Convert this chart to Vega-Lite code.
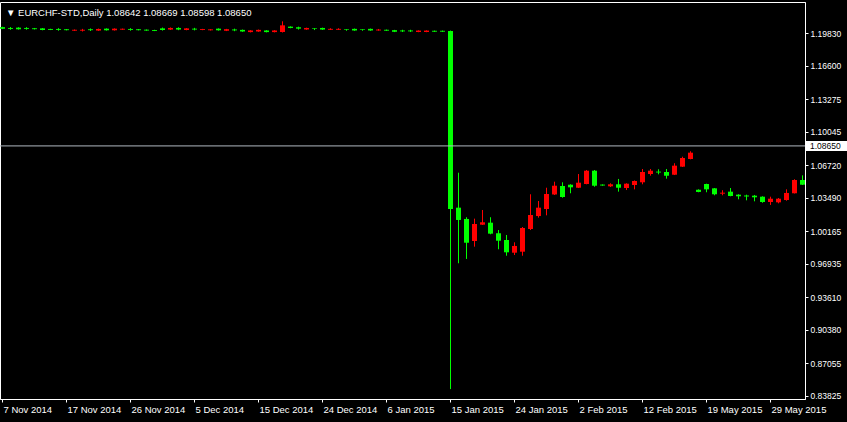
{
  "$schema": "https://vega.github.io/schema/vega-lite/v6.json",
  "width": 805,
  "height": 397,
  "autosize": {"type": "none"},
  "padding": {"left": 0, "top": 2, "right": 42, "bottom": 23},
  "background": "black",
  "config": {
    "view": {"stroke": "white", "strokeWidth": 1},
    "font": "Liberation Sans",
    "axis": {"labelFont": "Liberation Sans", "grid": false, "title": null, "labelOverlap": false, "labelSeparation": 0}
  },
  "title": {
    "text": "▼ EURCHF-STD,Daily  1.08642 1.08669 1.08598 1.08650",
    "anchor": "start",
    "frame": "group",
    "orient": "top",
    "offset": 0,
    "dx": 6,
    "dy": 23,
    "baseline": "alphabetic",
    "color": "white",
    "font": "Liberation Sans",
    "fontSize": 9.5,
    "fontWeight": "normal"
  },
  "layer": [
    {
      "data": {
        "values": [
          {"date": "7 Nov 2014", "open": 1.2044, "high": 1.2048, "low": 1.2025, "close": 1.2028},
          {"date": "9 Nov 2014", "open": 1.2036, "high": 1.2045, "low": 1.2018, "close": 1.2027},
          {"date": "10 Nov 2014", "open": 1.2039, "high": 1.2043, "low": 1.2020, "close": 1.2023},
          {"date": "11 Nov 2014", "open": 1.2036, "high": 1.2044, "low": 1.2019, "close": 1.2027},
          {"date": "12 Nov 2014", "open": 1.2033, "high": 1.2036, "low": 1.2021, "close": 1.2024},
          {"date": "13 Nov 2014", "open": 1.2032, "high": 1.2035, "low": 1.2013, "close": 1.2016},
          {"date": "14 Nov 2014", "open": 1.2026, "high": 1.2028, "low": 1.2015, "close": 1.2017},
          {"date": "16 Nov 2014", "open": 1.2026, "high": 1.2034, "low": 1.2009, "close": 1.2017},
          {"date": "17 Nov 2014", "open": 1.2023, "high": 1.2025, "low": 1.2012, "close": 1.2014},
          {"date": "18 Nov 2014", "open": 1.2009, "high": 1.2021, "low": 1.2007, "close": 1.2018},
          {"date": "19 Nov 2014", "open": 1.2009, "high": 1.2027, "low": 1.2001, "close": 1.2018},
          {"date": "20 Nov 2014", "open": 1.2023, "high": 1.2031, "low": 1.2006, "close": 1.2014},
          {"date": "21 Nov 2014", "open": 1.2010, "high": 1.2030, "low": 1.2007, "close": 1.2026},
          {"date": "23 Nov 2014", "open": 1.2029, "high": 1.2032, "low": 1.2010, "close": 1.2013},
          {"date": "24 Nov 2014", "open": 1.2013, "high": 1.2032, "low": 1.2010, "close": 1.2029},
          {"date": "25 Nov 2014", "open": 1.2019, "high": 1.2030, "low": 1.2017, "close": 1.2028},
          {"date": "26 Nov 2014", "open": 1.2026, "high": 1.2034, "low": 1.2009, "close": 1.2017},
          {"date": "27 Nov 2014", "open": 1.2023, "high": 1.2025, "low": 1.2012, "close": 1.2014},
          {"date": "28 Nov 2014", "open": 1.2019, "high": 1.2021, "low": 1.2008, "close": 1.2010},
          {"date": "30 Nov 2014", "open": 1.2016, "high": 1.2018, "low": 1.2005, "close": 1.2007},
          {"date": "1 Dec 2014", "open": 1.2032, "high": 1.2040, "low": 1.2010, "close": 1.2016},
          {"date": "2 Dec 2014", "open": 1.2020, "high": 1.2041, "low": 1.2016, "close": 1.2036},
          {"date": "3 Dec 2014", "open": 1.2036, "high": 1.2043, "low": 1.2014, "close": 1.2020},
          {"date": "4 Dec 2014", "open": 1.2016, "high": 1.2035, "low": 1.2013, "close": 1.2032},
          {"date": "5 Dec 2014", "open": 1.2029, "high": 1.2037, "low": 1.2012, "close": 1.2020},
          {"date": "7 Dec 2014", "open": 1.2016, "high": 1.2027, "low": 1.2014, "close": 1.2025},
          {"date": "8 Dec 2014", "open": 1.2013, "high": 1.2024, "low": 1.2011, "close": 1.2022},
          {"date": "9 Dec 2014", "open": 1.2029, "high": 1.2032, "low": 1.2010, "close": 1.2013},
          {"date": "10 Dec 2014", "open": 1.2008, "high": 1.2027, "low": 1.2005, "close": 1.2024},
          {"date": "11 Dec 2014", "open": 1.2021, "high": 1.2029, "low": 1.2004, "close": 1.2012},
          {"date": "12 Dec 2014", "open": 1.2017, "high": 1.2020, "low": 1.1998, "close": 1.2001},
          {"date": "14 Dec 2014", "open": 1.1995, "high": 1.2014, "low": 1.1992, "close": 1.2011},
          {"date": "15 Dec 2014", "open": 1.2001, "high": 1.2020, "low": 1.1998, "close": 1.2017},
          {"date": "16 Dec 2014", "open": 1.2011, "high": 1.2014, "low": 1.1992, "close": 1.1995},
          {"date": "17 Dec 2014", "open": 1.1995, "high": 1.2014, "low": 1.1992, "close": 1.2011},
          {"date": "18 Dec 2014", "open": 1.1996, "high": 1.2102, "low": 1.1991, "close": 1.2062},
          {"date": "19 Dec 2014", "open": 1.2049, "high": 1.2052, "low": 1.2033, "close": 1.2036},
          {"date": "21 Dec 2014", "open": 1.2043, "high": 1.2049, "low": 1.2020, "close": 1.2029},
          {"date": "22 Dec 2014", "open": 1.2021, "high": 1.2039, "low": 1.2018, "close": 1.2036},
          {"date": "23 Dec 2014", "open": 1.2032, "high": 1.2033, "low": 1.2015, "close": 1.2026},
          {"date": "24 Dec 2014", "open": 1.2036, "high": 1.2039, "low": 1.2017, "close": 1.2020},
          {"date": "26 Dec 2014", "open": 1.2018, "high": 1.2033, "low": 1.2016, "close": 1.2027},
          {"date": "28 Dec 2014", "open": 1.2018, "high": 1.2033, "low": 1.2016, "close": 1.2027},
          {"date": "29 Dec 2014", "open": 1.2022, "high": 1.2023, "low": 1.2008, "close": 1.2016},
          {"date": "30 Dec 2014", "open": 1.2027, "high": 1.2030, "low": 1.2008, "close": 1.2011},
          {"date": "31 Dec 2014", "open": 1.2022, "high": 1.2023, "low": 1.2008, "close": 1.2016},
          {"date": "4 Jan 2015", "open": 1.2027, "high": 1.2030, "low": 1.2008, "close": 1.2011},
          {"date": "5 Jan 2015", "open": 1.2011, "high": 1.2026, "low": 1.2009, "close": 1.2020},
          {"date": "6 Jan 2015", "open": 1.2018, "high": 1.2020, "low": 1.2007, "close": 1.2009},
          {"date": "7 Jan 2015", "open": 1.2014, "high": 1.2017, "low": 1.1995, "close": 1.1998},
          {"date": "8 Jan 2015", "open": 1.2011, "high": 1.2018, "low": 1.1996, "close": 1.2002},
          {"date": "9 Jan 2015", "open": 1.2011, "high": 1.2018, "low": 1.1996, "close": 1.2002},
          {"date": "11 Jan 2015", "open": 1.1996, "high": 1.2012, "low": 1.1994, "close": 1.2010},
          {"date": "12 Jan 2015", "open": 1.1996, "high": 1.2012, "low": 1.1994, "close": 1.2010},
          {"date": "13 Jan 2015", "open": 1.2008, "high": 1.2010, "low": 1.1997, "close": 1.1999},
          {"date": "14 Jan 2015", "open": 1.2008, "high": 1.2010, "low": 1.1997, "close": 1.1999},
          {"date": "15 Jan 2015", "open": 1.2006, "high": 1.2010, "low": 0.8451, "close": 1.0239},
          {"date": "16 Jan 2015", "open": 1.0252, "high": 1.0599, "low": 0.9700, "close": 1.0130},
          {"date": "18 Jan 2015", "open": 1.0140, "high": 1.0157, "low": 0.9743, "close": 0.9904},
          {"date": "19 Jan 2015", "open": 0.9921, "high": 1.0143, "low": 0.9865, "close": 1.0090},
          {"date": "20 Jan 2015", "open": 1.0083, "high": 1.0229, "low": 1.0080, "close": 1.0107},
          {"date": "21 Jan 2015", "open": 1.0103, "high": 1.0157, "low": 0.9988, "close": 0.9994},
          {"date": "22 Jan 2015", "open": 0.9998, "high": 1.0030, "low": 0.9839, "close": 0.9924},
          {"date": "23 Jan 2015", "open": 0.9931, "high": 0.9981, "low": 0.9775, "close": 0.9809},
          {"date": "24 Jan 2015", "open": 0.9805, "high": 0.9908, "low": 0.9782, "close": 0.9872},
          {"date": "25 Jan 2015", "open": 0.9815, "high": 1.0060, "low": 0.9775, "close": 1.0050},
          {"date": "26 Jan 2015", "open": 1.0040, "high": 1.0385, "low": 1.0030, "close": 1.0179},
          {"date": "27 Jan 2015", "open": 1.0169, "high": 1.0318, "low": 1.0153, "close": 1.0252},
          {"date": "28 Jan 2015", "open": 1.0239, "high": 1.0450, "low": 1.0176, "close": 1.0388},
          {"date": "29 Jan 2015", "open": 1.0383, "high": 1.0510, "low": 1.0378, "close": 1.0470},
          {"date": "30 Jan 2015", "open": 1.0467, "high": 1.0504, "low": 1.0351, "close": 1.0358},
          {"date": "1 Feb 2015", "open": 1.0480, "high": 1.0484, "low": 1.0395, "close": 1.0454},
          {"date": "2 Feb 2015", "open": 1.0450, "high": 1.0586, "low": 1.0447, "close": 1.0500},
          {"date": "3 Feb 2015", "open": 1.0487, "high": 1.0626, "low": 1.0484, "close": 1.0619},
          {"date": "4 Feb 2015", "open": 1.0619, "high": 1.0626, "low": 1.0460, "close": 1.0470},
          {"date": "5 Feb 2015", "open": 1.0481, "high": 1.0483, "low": 1.0470, "close": 1.0472},
          {"date": "6 Feb 2015", "open": 1.0464, "high": 1.0494, "low": 1.0457, "close": 1.0484},
          {"date": "9 Feb 2015", "open": 1.0484, "high": 1.0537, "low": 1.0411, "close": 1.0450},
          {"date": "10 Feb 2015", "open": 1.0447, "high": 1.0494, "low": 1.0427, "close": 1.0490},
          {"date": "11 Feb 2015", "open": 1.0477, "high": 1.0522, "low": 1.0434, "close": 1.0517},
          {"date": "12 Feb 2015", "open": 1.0504, "high": 1.0636, "low": 1.0484, "close": 1.0606},
          {"date": "13 Feb 2015", "open": 1.0586, "high": 1.0636, "low": 1.0570, "close": 1.0619},
          {"date": "15 Feb 2015", "open": 1.0610, "high": 1.0633, "low": 1.0583, "close": 1.0601},
          {"date": "16 Feb 2015", "open": 1.0606, "high": 1.0636, "low": 1.0540, "close": 1.0569},
          {"date": "17 Feb 2015", "open": 1.0579, "high": 1.0693, "low": 1.0576, "close": 1.0669},
          {"date": "18 Feb 2015", "open": 1.0659, "high": 1.0758, "low": 1.0656, "close": 1.0745},
          {"date": "19 Feb 2015", "open": 1.0735, "high": 1.0812, "low": 1.0732, "close": 1.0798},
          {"date": "18 May 2015", "open": 1.0430, "high": 1.0434, "low": 1.0405, "close": 1.0408},
          {"date": "19 May 2015", "open": 1.0487, "high": 1.0490, "low": 1.0405, "close": 1.0434},
          {"date": "20 May 2015", "open": 1.0444, "high": 1.0447, "low": 1.0375, "close": 1.0385},
          {"date": "21 May 2015", "open": 1.0391, "high": 1.0425, "low": 1.0375, "close": 1.0401},
          {"date": "22 May 2015", "open": 1.0411, "high": 1.0447, "low": 1.0365, "close": 1.0368},
          {"date": "25 May 2015", "open": 1.0381, "high": 1.0385, "low": 1.0335, "close": 1.0365},
          {"date": "26 May 2015", "open": 1.0373, "high": 1.0381, "low": 1.0325, "close": 1.0363},
          {"date": "27 May 2015", "open": 1.0371, "high": 1.0378, "low": 1.0315, "close": 1.0355},
          {"date": "28 May 2015", "open": 1.0361, "high": 1.0365, "low": 1.0301, "close": 1.0308},
          {"date": "29 May 2015", "open": 1.0308, "high": 1.0361, "low": 1.0279, "close": 1.0341},
          {"date": "31 May 2015", "open": 1.0305, "high": 1.0348, "low": 1.0295, "close": 1.0341},
          {"date": "1 Jun 2015", "open": 1.0328, "high": 1.0434, "low": 1.0321, "close": 1.0398},
          {"date": "2 Jun 2015", "open": 1.0395, "high": 1.0534, "low": 1.0393, "close": 1.0527},
          {"date": "3 Jun 2015", "open": 1.0527, "high": 1.0573, "low": 1.0477, "close": 1.0480}
        ]
      },
      "encoding": {
        "x": {
          "field": "date",
          "type": "ordinal",
          "sort": null,
          "scale": {"type": "band", "paddingInner": 0.375, "paddingOuter": 0},
          "axis": {
            "orient": "bottom",
            "values": ["7 Nov 2014", "17 Nov 2014", "26 Nov 2014", "5 Dec 2014", "15 Dec 2014", "24 Dec 2014", "6 Jan 2015", "15 Jan 2015", "24 Jan 2015", "2 Feb 2015", "12 Feb 2015", "19 May 2015", "29 May 2015"],
            "labelAlign": "left",
            "labelAngle": 0,
            "labelBaseline": "top",
            "labelOffset": 1,
            "labelPadding": 2,
            "labelColor": "white",
            "labelFontSize": 9.5,
            "labelOverlap": false,
            "labelBound": false,
            "labelFlush": false,
            "tickColor": "white",
            "tickSize": 3,
            "domainColor": "white",
            "title": null
          }
        },
        "y": {
          "field": "low",
          "type": "quantitative",
          "scale": {"domain": [0.83527, 1.22937], "nice": false, "zero": false},
          "axis": {
            "orient": "right",
            "values": [1.1983, 1.166, 1.13275, 1.10045, 1.0672, 1.0349, 1.00165, 0.96935, 0.9361, 0.9038, 0.87055, 0.83825],
            "format": ".5f",
            "labelColor": "white",
            "labelFontSize": 8.5,
            "labelPadding": 2,
            "labelOverlap": false,
            "labelSeparation": 0,
            "labelFlush": false,
            "labelBound": false,
            "tickColor": "white",
            "tickSize": 3,
            "domainColor": "white",
            "title": null
          }
        },
        "color": {
          "condition": {"test": "datum.close > datum.open", "value": "#ff0000"},
          "value": "#00ff00"
        }
      },
      "layer": [
        {
          "mark": {"type": "rule", "strokeWidth": 1},
          "encoding": {
            "y2": {"field": "high"}
          }
        },
        {
          "mark": {"type": "bar"},
          "encoding": {
            "y": {
              "field": "open",
              "type": "quantitative",
              "axis": {
                "orient": "right",
                "values": [1.1983, 1.166, 1.13275, 1.10045, 1.0672, 1.0349, 1.00165, 0.96935, 0.9361, 0.9038, 0.87055, 0.83825],
                "format": ".5f",
                "labelColor": "white",
                "labelFontSize": 8.5,
                "labelPadding": 2,
                "labelOverlap": false,
                "labelSeparation": 0,
                "labelFlush": false,
                "labelBound": false,
                "tickColor": "white",
                "tickSize": 3,
                "domainColor": "white",
                "title": null
              }
            },
            "y2": {"field": "close"}
          }
        }
      ]
    },
    {
      "data": {"values": [{"price": 1.0865, "label": "1.08650"}]},
      "encoding": {
        "y": {
          "field": "price",
          "type": "quantitative",
          "axis": {
            "orient": "right",
            "values": [1.1983, 1.166, 1.13275, 1.10045, 1.0672, 1.0349, 1.00165, 0.96935, 0.9361, 0.9038, 0.87055, 0.83825],
            "format": ".5f",
            "labelColor": "white",
            "labelFontSize": 8.5,
            "labelPadding": 2,
            "labelOverlap": false,
            "labelSeparation": 0,
            "labelFlush": false,
            "labelBound": false,
            "tickColor": "white",
            "tickSize": 3,
            "domainColor": "white",
            "title": null
          }
        }
      },
      "layer": [
        {
          "mark": {"type": "rule", "color": "#b0b8c0", "strokeWidth": 1},
          "encoding": {}
        },
        {
          "mark": {"type": "rect", "color": "white", "xOffset": 1, "x2Offset": 43, "yOffset": -5, "y2Offset": 5},
          "encoding": {
            "x": {"value": "width"},
            "x2": {"value": "width"},
            "y2": {"field": "price"}
          }
        },
        {
          "mark": {"type": "text", "color": "black", "align": "left", "baseline": "middle", "dx": 5, "fontSize": 8.5, "font": "Liberation Sans"},
          "encoding": {
            "x": {"value": "width"},
            "text": {"field": "label"}
          }
        }
      ]
    }
  ]
}
